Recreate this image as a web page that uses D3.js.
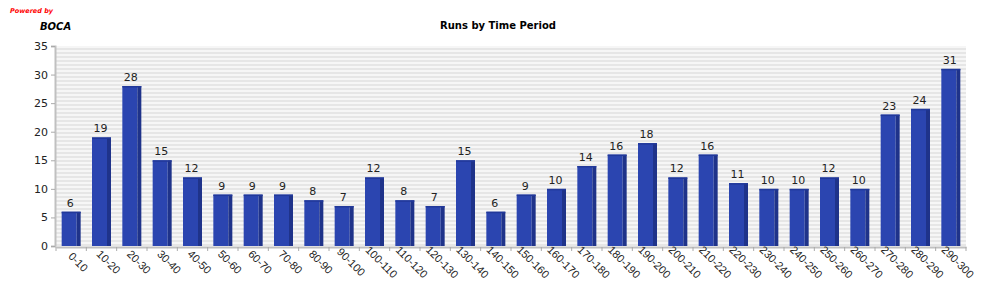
<!DOCTYPE html>
<html><head><meta charset="utf-8">
<script src="https://cdn.jsdelivr.net/npm/d3@7"></script>
<style>body{margin:0;background:#fff}svg{display:block;font-family:"DejaVu Sans",sans-serif}</style>
</head><body>
<script>
const categories = ["0-10","10-20","20-30","30-40","40-50","50-60","60-70","70-80","80-90","90-100","100-110","110-120","120-130","130-140","140-150","150-160","160-170","170-180","180-190","190-200","200-210","210-220","220-230","230-240","240-250","250-260","260-270","270-280","280-290","290-300"];
const runs = [6,19,28,15,12,9,9,9,8,7,12,8,7,15,6,9,10,14,16,18,12,16,11,10,10,12,10,23,24,31];
const yTicks = [0,5,10,15,20,25,30,35];

const W=1000,H=300;
const m={l:56,r:34,t:46,b:54};
const svg=d3.select("body").append("svg").attr("width",W).attr("height",H);
const defs=svg.append("defs");
const pat=defs.append("pattern").attr("id","stripes").attr("patternUnits","userSpaceOnUse").attr("width",10).attr("height",4);
pat.append("rect").attr("width",10).attr("height",4).attr("fill","#f6f6f6");
pat.append("rect").attr("width",10).attr("height",2).attr("fill","#e6e6e6");

const x=d3.scaleBand().domain(categories).range([m.l,W-m.r]).paddingInner(0);
const y=d3.scaleLinear().domain([0,35]).range([H-m.b,m.t]);

svg.append("rect").attr("x",m.l).attr("y",m.t).attr("width",W-m.r-m.l).attr("height",H-m.b-m.t).attr("fill","url(#stripes)");

// titles
svg.append("text").attr("x",10).attr("y",13).attr("fill","#ff0000").attr("font-size",6.5).attr("font-weight","bold").attr("font-style","italic").text("Powered by");
svg.append("text").attr("x",40).attr("y",30).attr("fill","#000").attr("font-size",10).attr("font-weight","bold").attr("font-style","italic").text("BOCA");
svg.append("text").attr("x",498).attr("y",29).attr("text-anchor","middle").attr("font-size",10).attr("font-weight","bold").text("Runs by Time Period");

// bars
const bw=19, side=4;
const g=svg.append("g");
const bars=g.selectAll("g.bar").data(runs).join("g");
bars.append("rect")
  .attr("x",(d,i)=>x(categories[i])+x.bandwidth()/2-bw/2)
  .attr("y",d=>y(d))
  .attr("width",bw-side).attr("height",d=>y(0)-y(d))
  .attr("fill","#2b45b0");
bars.append("rect")
  .attr("x",(d,i)=>x(categories[i])+x.bandwidth()/2-bw/2+bw-side)
  .attr("y",d=>y(d))
  .attr("width",side).attr("height",d=>y(0)-y(d))
  .attr("fill","#1f338a");
bars.append("rect")
  .attr("x",(d,i)=>x(categories[i])+x.bandwidth()/2-bw/2)
  .attr("y",d=>y(d))
  .attr("width",bw).attr("height",1.5)
  .attr("fill","#21389a");
bars.append("text")
  .attr("x",(d,i)=>x(categories[i])+x.bandwidth()/2-1)
  .attr("y",d=>y(d)-5)
  .attr("text-anchor","middle").attr("font-size",11).attr("fill","#222")
  .text(d=>d);

// axes
const ya=d3.axisLeft(y).tickValues(yTicks).tickSize(4).tickPadding(3);
const yg=svg.append("g").attr("transform",`translate(${m.l-1},0)`).call(ya);
yg.select(".domain").attr("stroke","#c0c0c0").attr("stroke-width",2);
yg.selectAll(".tick line").attr("stroke","#aaa");
yg.selectAll("text").attr("font-size",11).attr("fill","#222").attr("font-family","DejaVu Sans");

const xa=d3.axisBottom(x).tickSize(0).tickFormat("");
const xg=svg.append("g").attr("transform",`translate(0,${y(0)+1})`).call(xa);
xg.select(".domain").attr("stroke","#c0c0c0").attr("stroke-width",2);
// boundary ticks
const bounds=categories.map(c=>x(c)).concat([W-m.r]);
xg.selectAll("line.bt").data(bounds).join("line").attr("class","bt")
  .attr("x1",d=>d).attr("x2",d=>d).attr("y1",0).attr("y2",4).attr("stroke","#aaa");
xg.selectAll("text.xl").data(categories).join("text").attr("class","xl")
  .attr("transform",c=>`translate(${x(c)+x.bandwidth()/2+7},${15}) rotate(45)`)
  .attr("font-size",11).attr("fill","#222").attr("dy","0.35em")
  .text(c=>c);
</script>
</body></html>
